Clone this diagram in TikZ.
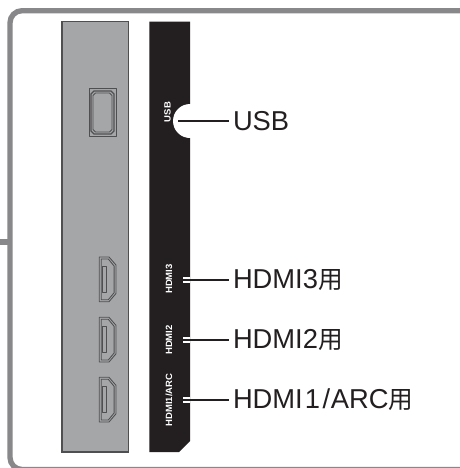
\documentclass[tikz,border=0pt]{standalone}
\usepackage{fontspec}
\setmainfont{Liberation Sans}
\newfontfamily\smallf[FakeStretch=1.05]{Liberation Sans Bold}
\newfontfamily\cjkf{Noto Sans CJK JP}
\definecolor{framegray}{HTML}{88888A}
\definecolor{panelgray}{HTML}{A5A6A8}
\definecolor{portline}{HTML}{4F4F51}
\definecolor{inkblack}{HTML}{231F20}
\newcommand{\yo}{{\cjkf\fontsize{18.5pt}{20pt}\selectfont 用}}
\tikzset{
  frameline/.style={draw=framegray,line width=4pt},
  panelbox/.style={fill=panelgray,draw=portline,line width=0.8pt},
  blackbox/.style={fill=inkblack,draw=none},
  portdraw/.style={draw=portline,line width=0.65pt,line join=round},
  lead/.style={draw=inkblack,line width=1.3pt},
  leadwhite/.style={draw=white,line width=4pt},
  biglabel/.style={text=inkblack,font=\fontsize{20.5pt}{22pt}\selectfont,anchor=base west,inner sep=0pt,outer xsep=3pt},
  smalllabel/.style={text=white,font=\smallf\fontsize{6.8pt}{7pt}\selectfont,rotate=90,inner sep=0pt}
}
\newcommand{\hdmiport}[1]{%
  \begin{scope}[yshift=-#1*0.75pt]
    \draw[portdraw] (99.3,257) -- (109,257) -- (116,265) -- (116,293.5) -- (109,301.7) -- (99.3,301.7) -- cycle;
    \draw[portdraw] (101.2,259) -- (108.3,259) -- (114.1,266) -- (114.1,292.7) -- (108.3,299.7) -- (101.2,299.7) -- cycle;
    \draw[portdraw] (102.3,266.5) rectangle (106,292);
  \end{scope}}
\begin{document}
\begin{tikzpicture}[x=0.75pt,y=-0.75pt]
\useasboundingbox (0,0) rectangle (460,468);
\clip (0,0) rectangle (460,468);
\fill[white] (0,0) rectangle (460,468);
% frame
\draw[frameline,rounded corners=9pt] (480,10.7) -- (10,10.7) -- (10,469.5) -- (480,469.5);
\fill[framegray] (0,239) rectangle (9,245);
% grey panel
\draw[panelbox] (62,21.5) rectangle (128.7,452);
\draw[portdraw] (89.3,88.3) rectangle (116.3,136.3);
\draw[portdraw,line width=1pt] (94,91) -- (111,91) -- (114,94) -- (114,131) -- (111,134) -- (94,134) -- (91,131) -- (91,94) -- cycle;
\draw[portdraw] (95.5,93) -- (109.5,93) -- (112,95.5) -- (112,129.5) -- (109.5,132) -- (95.5,132) -- (93,129.5) -- (93,95.5) -- cycle;
\hdmiport{0}
\hdmiport{60.3}
\hdmiport{120.3}
% black panel
\fill[blackbox] (149.3,21.5) -- (190,21.5) -- (190,441) -- (179,452) -- (149.3,452) -- cycle;
\fill[white] (190,121) circle[radius=17];
% small vertical labels
\node[smalllabel] (susb) at (167.5,112) {USB};
\node[smalllabel] (shdmithree) at (169,279) {HDMI3};
\node[smalllabel] (shdmitwo) at (169,340) {HDMI2};
\node[smalllabel] (shdmione) at (169,400) {HDMI1/ARC};
% big labels
\node[biglabel] (lusb) at (229,130) {USB};
\node[biglabel] (lhdmithree) at (229,288) {HDMI3\yo};
\node[biglabel] (lhdmitwo) at (229,348) {HDMI2\yo};
\node[biglabel] (lhdmione) at (229,408) {HDMI\kern1.5pt 1\kern2pt/\kern0.5pt ARC\yo};
% leads
\coordinate (pusb) at (178,121);
\coordinate (pthree) at (183,280);
\coordinate (ptwo) at (183,340);
\coordinate (pone) at (183,400);
\coordinate (ethree) at (190,280);
\coordinate (etwo) at (190,340);
\coordinate (eone) at (190,400);
\draw[leadwhite] (pthree) -- (ethree);
\draw[leadwhite] (ptwo) -- (etwo);
\draw[leadwhite] (pone) -- (eone);
\draw[lead] (pusb) -- (pusb -| lusb.west);
\draw[lead] (pthree) -- (pthree -| lhdmithree.west);
\draw[lead] (ptwo) -- (ptwo -| lhdmitwo.west);
\draw[lead] (pone) -- (pone -| lhdmione.west);
\end{tikzpicture}
\end{document}
